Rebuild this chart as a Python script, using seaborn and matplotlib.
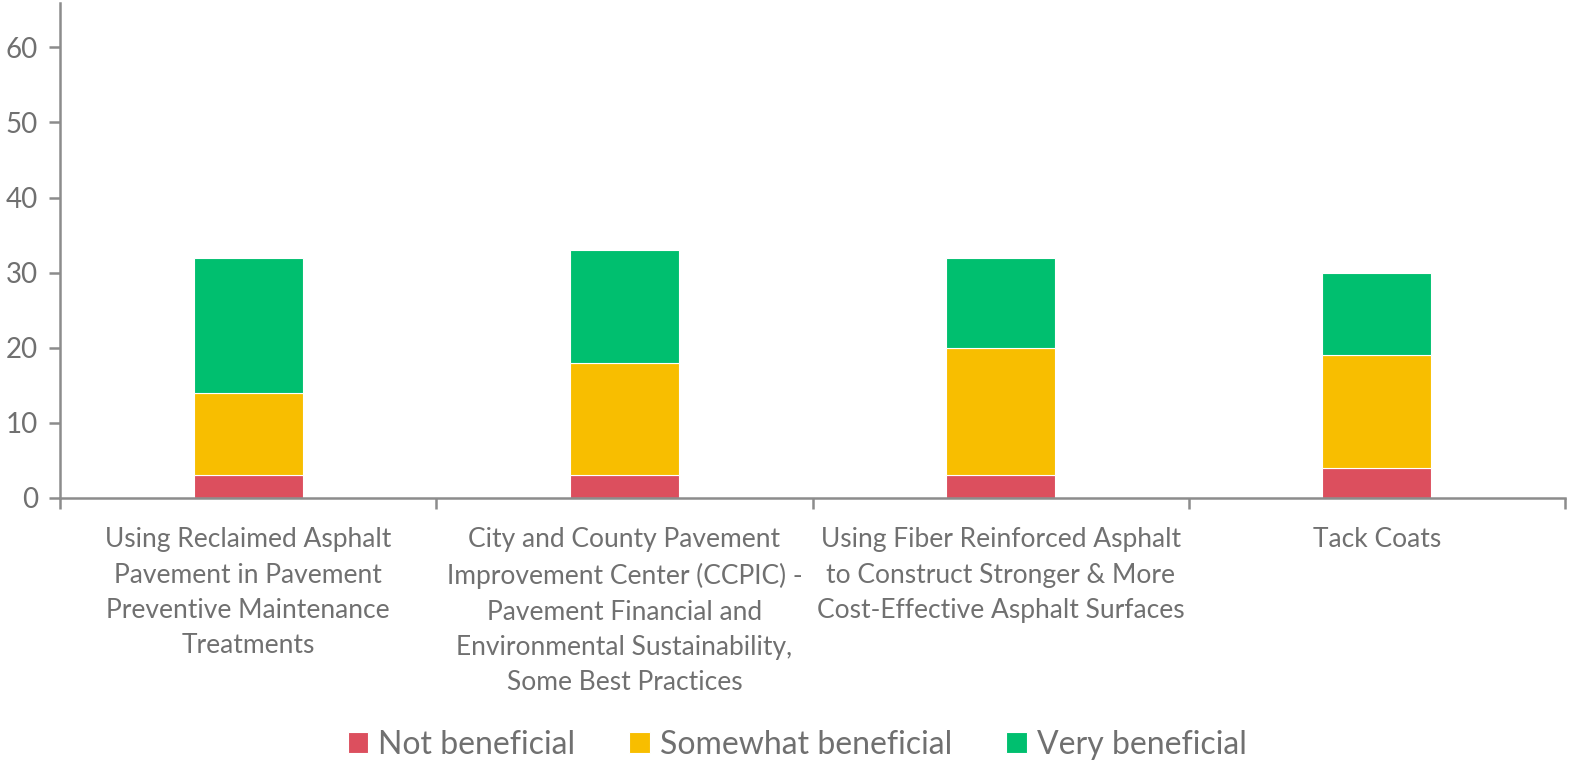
import matplotlib
matplotlib.use("Agg")
import matplotlib.pyplot as plt
import seaborn as sns
import pandas as pd
import numpy as np

categories = [
    "Using Reclaimed Asphalt\nPavement in Pavement\nPreventive Maintenance\nTreatments",
    "City and County Pavement\nImprovement Center (CCPIC) -\nPavement Financial and\nEnvironmental Sustainability,\nSome Best Practices",
    "Using Fiber Reinforced Asphalt\nto Construct Stronger & More\nCost-Effective Asphalt Surfaces",
    "Tack Coats",
]
not_beneficial = [3, 3, 3, 4]
somewhat_beneficial = [11, 15, 17, 15]
very_beneficial = [18, 15, 12, 11]
series_names = ["Not beneficial", "Somewhat beneficial", "Very beneficial"]
colors = ["#DC4F5E", "#F8BE00", "#00BF6F"]
yticks = [0, 10, 20, 30, 40, 50, 60]

sns.set_theme(style="white")
plt.rcParams['font.family'] = ['Lato', 'DejaVu Sans']
text_color = "#707070"
axis_color = "#8c8c8c"

fig = plt.figure(figsize=(15.71, 7.64), dpi=100)
ax = fig.add_axes([60/1571, 1-498/764, (1565-60)/1571, 495/764])

series = [not_beneficial, somewhat_beneficial, very_beneficial]
bottom = np.zeros(len(categories))
for name, vals, col in zip(series_names, series, colors):
    df = pd.DataFrame({"cat": categories, "val": vals})
    sns.barplot(data=df, x="cat", y="val", color=col, width=0.29, bottom=bottom,
                ax=ax, edgecolor="white", linewidth=0.8, label=name, saturation=1)
    bottom = bottom + np.array(vals)

ax.set_xlim(-0.5, len(categories) - 0.5)
ax.set_ylim(0, 65.9)
ax.set_yticks(yticks)
ax.set_xlabel("")
ax.set_ylabel("")
for s in ["top", "right"]:
    ax.spines[s].set_visible(False)
for s in ["left", "bottom"]:
    ax.spines[s].set_color(axis_color)
    ax.spines[s].set_linewidth(1.8)

ax.tick_params(axis="y", which="major", direction="out", length=8, width=1.8,
               color=axis_color, labelsize=20, labelcolor=text_color, pad=8, left=True)
ax.set_xticks(range(len(categories)))
ax.set_xticklabels(categories)
ax.tick_params(axis="x", which="major", length=0, labelsize=19, labelcolor=text_color, pad=21)
ax.set_xticks(np.arange(-0.5, len(categories), 1.0), minor=True)
ax.tick_params(axis="x", which="minor", direction="out", length=8, width=1.8,
               color=axis_color, bottom=True)
for lbl in ax.get_xticklabels():
    lbl.set_linespacing(1.52)

h, l = ax.get_legend_handles_labels()
if ax.get_legend() is not None:
    ax.get_legend().remove()
fig.legend(h, l, loc="center", bbox_to_anchor=(797/1571, 1-745/764), ncol=3,
           frameon=False, fontsize=23, labelcolor=text_color, handlelength=0.65,
           handleheight=0.65, handletextpad=0.3, columnspacing=1.7)

fig.savefig("out.png", dpi=100, facecolor="white")
